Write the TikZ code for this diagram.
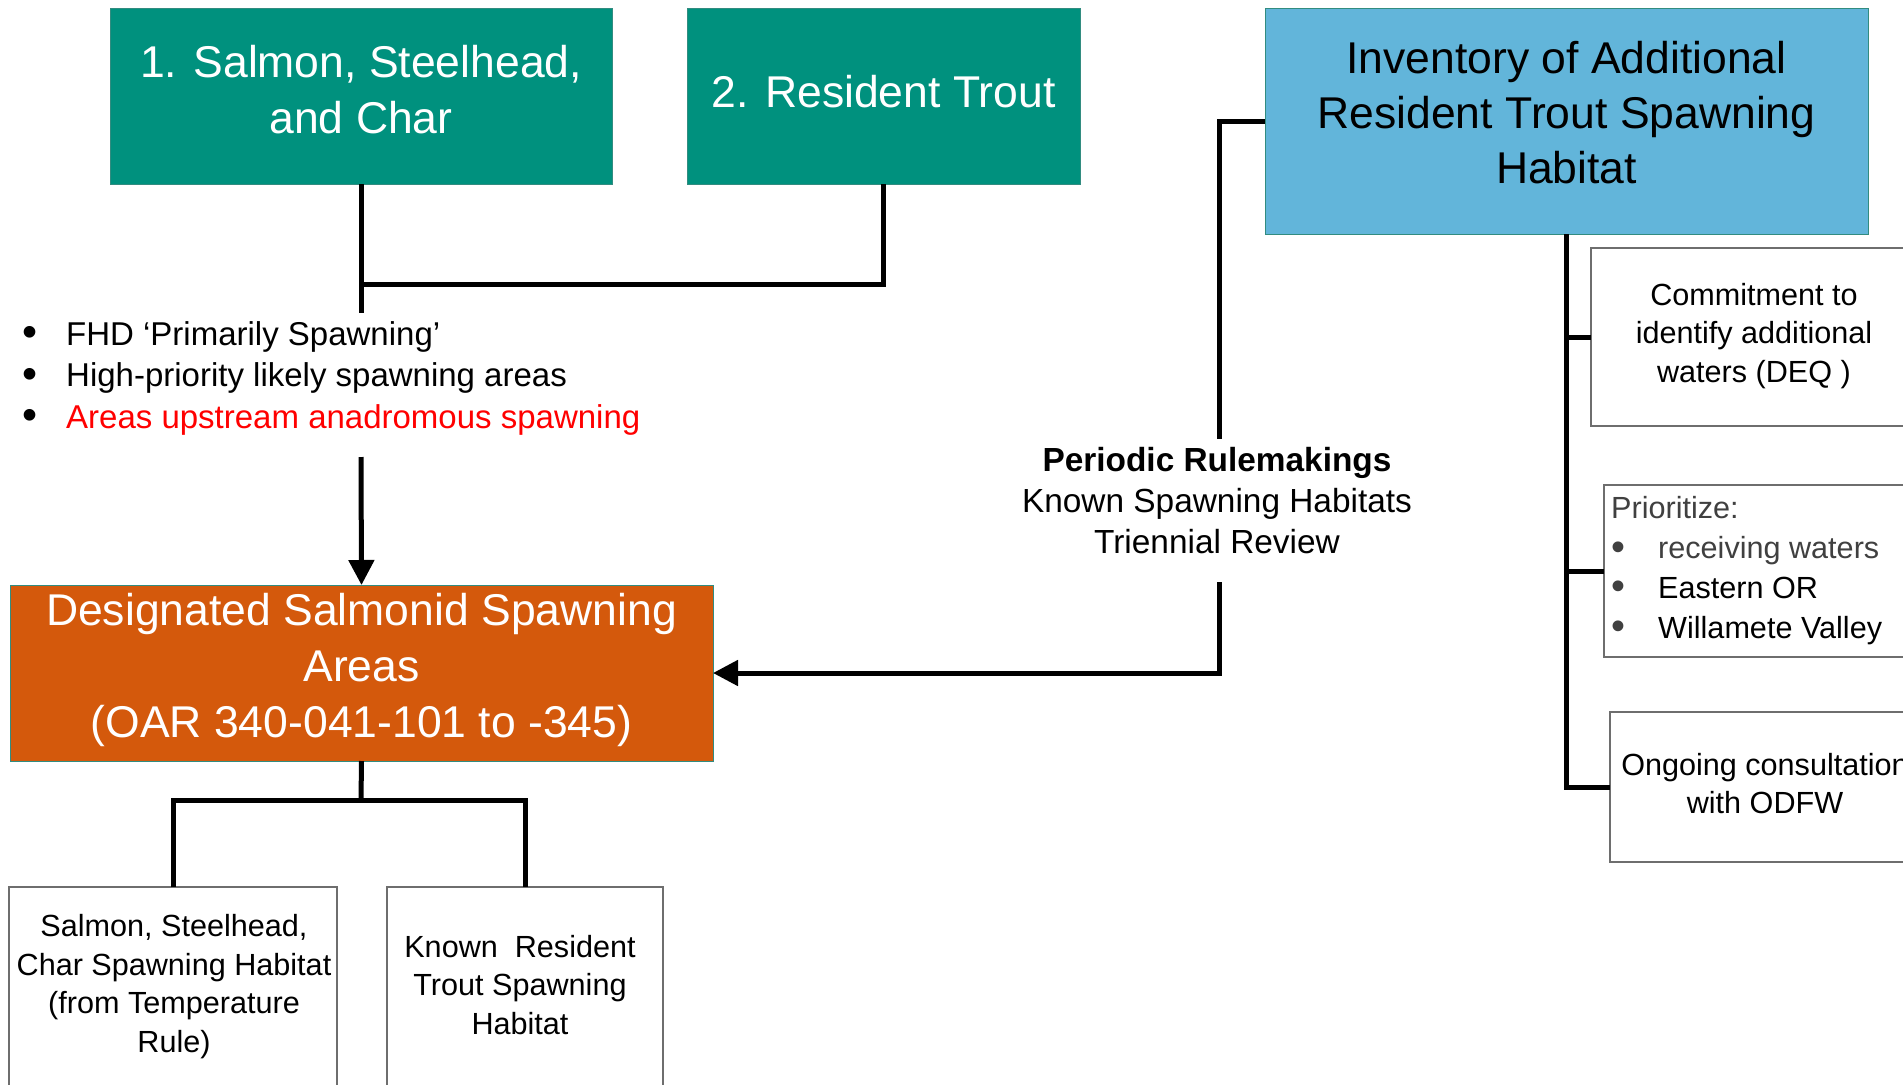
\documentclass[tikz,border=0pt]{standalone}
\usepackage{fontspec}
\setmainfont{Liberation Sans}
\usetikzlibrary{arrows.meta}
\definecolor{tealfill}{RGB}{0,145,126}
\definecolor{tealedge}{RGB}{50,140,128}
\definecolor{orangefill}{RGB}{212,89,12}
\definecolor{bluefill}{RGB}{98,181,218}
\definecolor{boxedge}{RGB}{110,110,110}
\definecolor{darktext}{RGB}{64,64,64}
\definecolor{redtext}{RGB}{255,0,0}
\newcommand{\bigbul}{\raisebox{-1.5pt}{\scalebox{1.3}{\textbullet}}}
\begin{document}
\begin{tikzpicture}[x=1pt,y=-1pt,
  box/.style={rectangle, inner sep=0pt, outer sep=0pt},
  colbox/.style={box, draw=tealedge, line width=1pt},
  wbox/.style={box, fill=white, draw=boxedge, line width=1.5pt},
  conn/.style={line width=5pt},
  arr/.style={conn, -{Triangle[length=25pt,width=25pt]}},
  bigtext/.style={font=\fontsize{44.5}{56}\selectfont, align=center, anchor=base, inner sep=0pt},
  smalltext/.style={font=\fontsize{30.6}{38.5}\selectfont, align=center, anchor=base, inner sep=0pt},
]
\useasboundingbox (0,0) rectangle (1903,1084);
\clip (0,0) rectangle (1903,1084);

% boxes
\node[colbox, fill=tealfill, minimum width=502pt, minimum height=176pt] (b1) at (361,96) {};
\node[colbox, fill=tealfill, minimum width=393pt, minimum height=176pt] (b2) at (883.5,96) {};
\node[colbox, fill=bluefill, minimum width=603pt, minimum height=226pt] (inv) at (1566.5,121) {};
\node[colbox, fill=orangefill, minimum width=703pt, minimum height=176pt] (dsa) at (361.5,673) {};
\node[wbox, minimum width=328pt, minimum height=240pt] (bl) at (173,1007) {};
\node[wbox, minimum width=276pt, minimum height=240pt] (br) at (525,1007) {};
\node[wbox, minimum width=326pt, minimum height=178pt] (com) at (1754,337) {};
\node[wbox, minimum width=320pt, minimum height=172pt] (pri) at (1764,571) {};
\node[wbox, minimum width=310pt, minimum height=150pt] (ong) at (1765,787) {};

% texts (anchor = baseline of the last line)
\node[bigtext, text=white] (b1t) at (361,133) {1. Salmon, Steelhead,\\and Char};
\node[bigtext, text=white] (b2t) at (883.5,107) {2. Resident Trout};
\node[bigtext, text=black, font=\fontsize{44.5}{55}\selectfont] (invt) at (1566.5,183) {Inventory of Additional\\Resident Trout Spawning\\Habitat};
\node[bigtext, text=white] (dsat) at (361.5,737) {Designated Salmonid Spawning\\Areas\\(OAR 340-041-101 to -345)};
\node[smalltext] (blt) at (174,1052) {Salmon, Steelhead,\\Char Spawning Habitat\\(from Temperature\\Rule)};
\node[smalltext] (brt) at (520,1034) {Known\ \ Resident\\Trout Spawning\\Habitat};
\node[smalltext] (comt) at (1754,382) {Commitment to\\identify additional\\waters (DEQ\ )};
\node[smalltext, font=\fontsize{30.6}{38}\selectfont] (ongt) at (1765,813) {Ongoing consultation\\with ODFW};
\node[smalltext, align=left, anchor=base west, font=\fontsize{30.6}{39.7}\selectfont] (prit) at (1611,638)
  {\textcolor{darktext}{Prioritize:}\\
   \makebox[47pt][l]{\textcolor{darktext}{\bigbul}}\textcolor{darktext}{receiving waters}\\
   \makebox[47pt][l]{\textcolor{darktext}{\bigbul}}Eastern OR\\
   \makebox[47pt][l]{\textcolor{darktext}{\bigbul}}Willamete Valley};
\node[align=left, anchor=base west, inner sep=0pt, font=\fontsize{33}{41.5}\selectfont] (bul) at (22,428)
  {\makebox[44pt][l]{\bigbul}FHD ‘Primarily Spawning’\\
   \makebox[44pt][l]{\bigbul}High-priority likely spawning areas\\
   \makebox[44pt][l]{\bigbul}\textcolor{redtext}{Areas upstream anadromous spawning}};
\node[align=center, anchor=base, inner sep=0pt, font=\fontsize{33.4}{41}\selectfont] (per) at (1217,553)
  {\textbf{Periodic Rulemakings}\\Known Spawning Habitats\\Triennial Review};

% connector coordinates
\coordinate (c1end) at (361,313);
\coordinate (j1) at (361,284);
\coordinate (a1) at (361,457);
\coordinate (j2) at (361,800);
\coordinate (pt) at (1219,439);
\coordinate (pb) at (1219,582);

% connectors
\draw[conn] (b1.south) -- (c1end);
\draw[conn] (b2.south) |- (j1);
\draw[arr] (a1) -- (dsa.north);
\draw[conn] (dsa.south) -- (j2);
\draw[conn] (bl.north) |- (j2) -| (br.north);
\draw[conn] (inv.west) -| (pt);
\draw[arr] (pb) |- (dsa.east);
\draw[conn] (inv.south) |- (ong.west);
\draw[conn] (inv.south |- com.west) -- (com.west);
\draw[conn] (inv.south |- pri.west) -- (pri.west);
\end{tikzpicture}
\end{document}
